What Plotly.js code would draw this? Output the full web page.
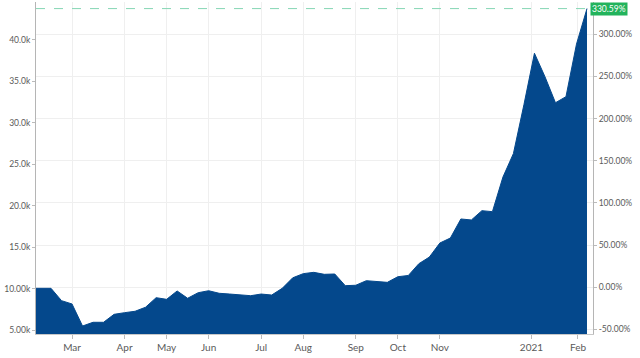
<!DOCTYPE html>
<html>
<head>
<meta charset="utf-8">
<script src="https://cdn.plot.ly/plotly-3.0.1.min.js"></script>
<style>html,body{margin:0;padding:0;background:#fff;}#chart{width:640px;height:358px;}</style>
</head>
<body>
<div id="chart"></div>
<script>
// Weekly closing prices (USD)
var dates = ['2020-02-06','2020-02-09','2020-02-16','2020-02-23','2020-03-01','2020-03-08','2020-03-15','2020-03-22','2020-03-29',
  '2020-04-05','2020-04-12','2020-04-19','2020-04-26','2020-05-03','2020-05-10','2020-05-17','2020-05-24','2020-05-31',
  '2020-06-07','2020-06-14','2020-06-21','2020-06-28','2020-07-05','2020-07-12','2020-07-19','2020-07-26',
  '2020-08-02','2020-08-09','2020-08-16','2020-08-23','2020-08-30','2020-09-06','2020-09-13','2020-09-20','2020-09-27',
  '2020-10-04','2020-10-11','2020-10-18','2020-10-25','2020-11-01','2020-11-08','2020-11-15','2020-11-22','2020-11-29',
  '2020-12-06','2020-12-13','2020-12-20','2020-12-27','2021-01-03','2021-01-10','2021-01-17','2021-01-24','2021-01-31','2021-02-07'];
var prices = [10030,10030,10030,8540,8140,5480,5930,5930,6890,
  7090,7260,7750,8900,8700,9710,8830,9500,9740,
  9430,9340,9220,9140,9340,9220,10030,11300,
  11800,11960,11720,11760,10350,10400,10950,10850,10750,
  11430,11580,13000,13800,15500,16100,18400,18280,19400,
  19280,23450,26300,32200,38400,35570,32430,33160,39500,43790];
var lastGainPct = 330.59;

// month labels sit on the first weekly point of each month
var xTickVals = ['2020-03-01','2020-04-05','2020-05-03','2020-05-31','2020-07-05','2020-08-02','2020-09-06','2020-10-04','2020-11-01','2021-01-01','2021-02-01'];
var xTickText = ['Mar','Apr','May','Jun','Jul','Aug','Sep','Oct','Nov','2021','Feb'];
var yTickVals = [5000,10000,15000,20000,25000,30000,35000,40000];
var yTickText = ['5.00k','10.00k','15.0k','20.0k','25.0k','30.0k','35.0k','40.0k'];
var pctTickVals = [-50,0,50,100,150,200,250,300];
var pctTickText = ['-50.00%','0.00%','50.00%','100.00%','150.00%','200.00%','250.00%','300.00%'];

var basePrice = prices[prices.length-1] / (1 + lastGainPct/100);
var yRange = [4517, 44585];
var pctRange = yRange.map(function(v){ return (v/basePrice - 1)*100; });

var font = 'Lato, "Open Sans", sans-serif';
var trace = {
  x: dates, y: prices, type: 'scatter', mode: 'lines',
  fill: 'tozeroy', fillcolor: '#04488c',
  line: {color: '#04488c', width: 1, shape: 'linear'},
  hoverinfo: 'skip'
};
var dummy = {x: [dates[0]], y: [0], yaxis: 'y2', type: 'scatter', mode: 'markers', marker: {opacity: 0}, hoverinfo: 'skip', showlegend: false};

var layout = {
  width: 640, height: 358,
  margin: {l: 36, r: 47, t: 2, b: 24},
  paper_bgcolor: '#fff', plot_bgcolor: '#fff',
  showlegend: false,
  font: {family: font, color: '#5a5a5a', size: 9},
  xaxis: {
    type: 'date', range: ['2020-02-06', '2021-02-11'],
    tickvals: xTickVals, ticktext: xTickText,
    showgrid: true, gridcolor: '#efefef', gridwidth: 1,
    ticks: 'outside', ticklen: 4, tickcolor: '#bbb',
    showline: true, linecolor: '#c8c8c8', linewidth: 1,
    tickfont: {size: 10, color: '#5a5a5a', family: font},
    zeroline: false
  },
  yaxis: {
    range: yRange, tickvals: yTickVals, ticktext: yTickText,
    showgrid: false, zeroline: false,
    ticks: 'outside', ticklen: 3, tickcolor: '#bbb',
    showline: true, linecolor: '#b5b5b5', linewidth: 1,
    tickfont: {size: 8.5, color: '#5a5a5a', family: font}
  },
  yaxis2: {
    overlaying: 'y', side: 'right', range: pctRange,
    tickvals: pctTickVals, ticktext: pctTickText,
    showgrid: true, gridcolor: '#efefef', gridwidth: 1, zeroline: false,
    ticks: 'outside', ticklen: 3, tickcolor: '#bbb',
    showline: true, linecolor: '#b5b5b5', linewidth: 1,
    tickfont: {size: 8.5, color: '#5a5a5a', family: font}
  },
  shapes: [{
    type: 'line', xref: 'paper', yref: 'y2', x0: 0, x1: 1, y0: lastGainPct, y1: lastGainPct,
    line: {color: '#86d6b5', width: 1, dash: 'dash'}
  }],
  annotations: [{
    xref: 'paper', yref: 'y2', x: 1, y: lastGainPct, xanchor: 'left', yanchor: 'middle',
    xshift: -3, showarrow: false,
    text: lastGainPct.toFixed(2) + '%',
    font: {color: '#fff', size: 8.5, family: font},
    bgcolor: '#22b35c', borderpad: 1
  }]
};

Plotly.newPlot('chart', [trace, dummy], layout, {displayModeBar: false, staticPlot: true});
</script>
</body>
</html>
